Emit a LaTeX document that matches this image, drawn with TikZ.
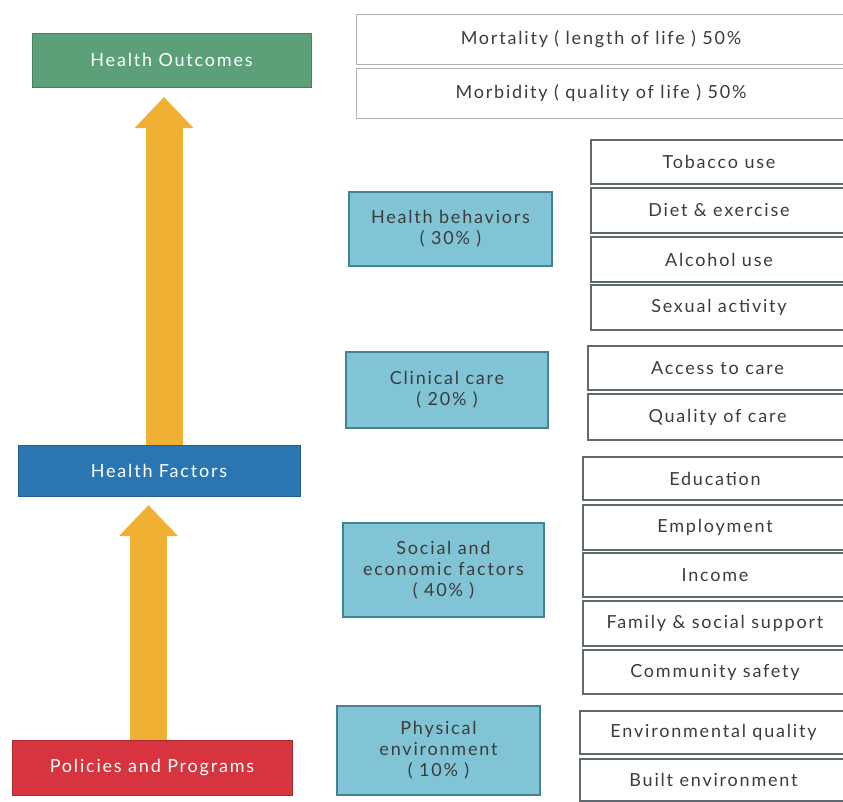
\documentclass[tikz,border=0pt]{standalone}
\usepackage{fontspec}
\setmainfont[LetterSpace=10]{Lato}
\usetikzlibrary{arrows.meta}
\definecolor{hogreen}{RGB}{92,160,122}
\definecolor{hfblue}{RGB}{42,118,178}
\definecolor{ppred}{RGB}{214,52,62}
\definecolor{catblue}{RGB}{128,196,214}
\definecolor{catedge}{RGB}{70,130,150}
\definecolor{arroworange}{RGB}{240,176,52}
\definecolor{txtgray}{RGB}{60,60,60}
\definecolor{itemedge}{RGB}{95,105,110}
\begin{document}
\begin{tikzpicture}[x=1pt,y=-1pt,
  every node/.style={inner sep=0pt, outer sep=0pt, anchor=north west, align=center,
    font=\fontsize{18}{21}\selectfont},
  mainbox/.style={draw=#1!80!black, fill=#1, text=white, line width=1pt},
  catbox/.style={draw=catedge, fill=catblue, text=txtgray, line width=1.2pt},
  itembox/.style={draw=itemedge, fill=white, text=txtgray, line width=1.2pt},
  outbox/.style={draw=black!30, fill=white, text=txtgray, line width=1pt},
  bigarrow/.style={draw=arroworange, line width=37pt,
    -{Triangle[width=57pt,length=31pt]}}]
\useasboundingbox (0,0) rectangle (843,801);
% left column
\node[mainbox=hogreen, minimum width=279, minimum height=54] (ho) at (32,33) {Health Outcomes};
\node[mainbox=hfblue, minimum width=282, minimum height=51] (hf) at (18,445) {Health Factors};
\node[mainbox=ppred, minimum width=280, minimum height=55] (pp) at (12,740) {Policies and Programs};
\coordinate (a1) at (164,0);
\coordinate (a2) at (148.5,0);
\draw[bigarrow, shorten >=10pt] (hf.north -| a1) -- (ho.south -| a1);
\draw[bigarrow, shorten >=9pt] (pp.north -| a2) -- (hf.south -| a2);
% outcomes
\node[outbox, minimum width=490, minimum height=50] (mort) at (356,14) {Mortality ( length of life ) 50\%};
\node[outbox, minimum width=490, minimum height=50] (morb) at (356,68) {Morbidity ( quality of life ) 50\%};
% categories
\node[catbox, minimum width=203, minimum height=74] (hb) at (349,192) {Health behaviors\\( 30\% )};
\node[catbox, minimum width=202, minimum height=76] (cc) at (346,352) {Clinical care\\( 20\% )};
\node[catbox, minimum width=201, minimum height=94] (se) at (343,523) {Social and\\economic factors\\( 40\% )};
\node[catbox, minimum width=203, minimum height=89] (pe) at (337,706) {Physical\\environment\\( 10\% )};
% items
\node[itembox, minimum width=256, minimum height=44] (i1) at (591,140) {Tobacco use};
\node[itembox, minimum width=256, minimum height=45] (i2) at (591,188) {Diet \& exercise};
\node[itembox, minimum width=256, minimum height=45] (i3) at (591,237) {Alcohol use};
\node[itembox, minimum width=256, minimum height=45] (i4) at (591,285) {Sexual activity};
\node[itembox, minimum width=259, minimum height=44] (i5) at (588,346) {Access to care};
\node[itembox, minimum width=259, minimum height=46] (i6) at (588,394) {Quality of care};
\node[itembox, minimum width=264, minimum height=43] (i7) at (583,457) {Education};
\node[itembox, minimum width=264, minimum height=45] (i8) at (583,505) {Employment};
\node[itembox, minimum width=264, minimum height=44] (i9) at (583,553) {Income};
\node[itembox, minimum width=264, minimum height=45] (i10) at (583,601) {Family \& social support};
\node[itembox, minimum width=264, minimum height=44] (i11) at (583,650) {Community safety};
\node[itembox, minimum width=267, minimum height=43] (i12) at (580,711) {Environmental quality};
\node[itembox, minimum width=267, minimum height=42] (i13) at (580,759) {Built environment};
\end{tikzpicture}
\end{document}
